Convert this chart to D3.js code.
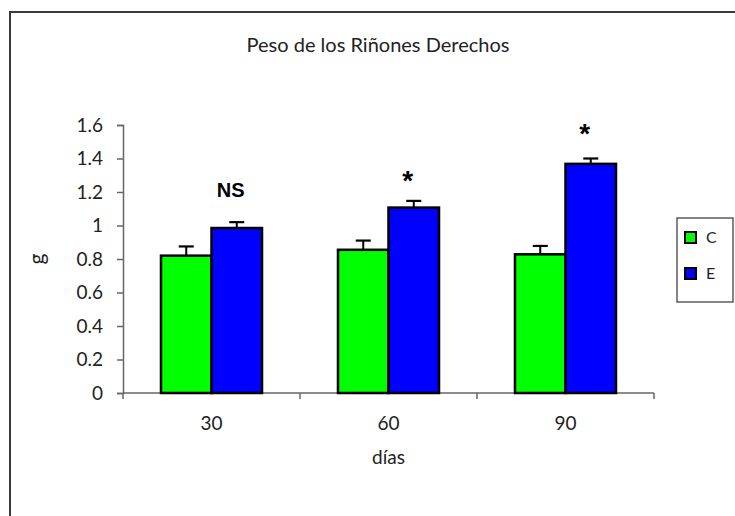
<!DOCTYPE html>
<html>
<head>
<meta charset="utf-8">
<script src="https://cdn.jsdelivr.net/npm/d3@7"></script>
<style>
  html, body { margin: 0; padding: 0; background: #fff; }
  svg { display: block; }
</style>
</head>
<body>
<svg id="chart" width="735" height="516"></svg>
<script>
// ---- data ----
const categories = ["30", "60", "90"];
const seriesNames = ["C", "E"];
const valuesC = [0.82, 0.855, 0.828];
const valuesE = [0.985, 1.107, 1.368];
const errorsC = [0.055, 0.055, 0.05];
const errorsE = [0.035, 0.04, 0.032];
const annotations = ["NS", "*", "*"];
const annotationLevels = [1.172, 1.21, 1.495];
const yTicks = [0, 0.2, 0.4, 0.6, 0.8, 1, 1.2, 1.4, 1.6];
const titleText = "Peso de los Riñones Derechos";
const xLabel = "días";
const yLabel = "g";
const colors = { C: "#00ff00", E: "#0000ff" };

const rows = categories.map((c, i) => ({
  cat: c,
  bars: [
    { s: "C", v: valuesC[i], e: errorsC[i] },
    { s: "E", v: valuesE[i], e: errorsE[i] }
  ],
  note: annotations[i],
  noteLevel: annotationLevels[i]
}));

// ---- layout ----
const svg = d3.select("#chart");
const W = 735, H = 516;
const plot = { left: 123, right: 654, top: 125, bottom: 393 };
const labelFont = "Lato, 'Open Sans', sans-serif";

svg.append("rect").attr("width", W).attr("height", H).attr("fill", "#fff");
// outer chart frame
svg.append("rect")
  .attr("x", 10).attr("y", 12).attr("width", 800).attr("height", 600)
  .attr("fill", "none").attr("stroke", "#3a3a3a").attr("stroke-width", 2);

const x = d3.scaleBand().domain(categories).range([plot.left, plot.right]).padding(0);
const xs = d3.scaleBand().domain(seriesNames).range([0, x.bandwidth()]).paddingInner(0).paddingOuter(0.752);
const y = d3.scaleLinear().domain([0, 1.6]).range([plot.bottom, plot.top]);

// title
svg.append("text")
  .attr("x", 378).attr("y", 52)
  .attr("text-anchor", "middle")
  .attr("font-family", labelFont).attr("font-size", 20).attr("fill", "#222")
  .text(titleText);

// y axis
const yAxis = svg.append("g")
  .attr("transform", `translate(${plot.left},0)`)
  .call(d3.axisLeft(y).tickValues(yTicks).tickSize(6).tickPadding(14)
    .tickFormat(d => d === 0 ? "0" : String(+d.toFixed(1))));
yAxis.select(".domain").attr("stroke", "#666").attr("stroke-width", 1.5);
yAxis.selectAll(".tick line").attr("stroke", "#666").attr("stroke-width", 1.5);
yAxis.selectAll(".tick text")
  .attr("font-family", labelFont).attr("font-size", 19).attr("fill", "#222");

// x axis
const xAxis = svg.append("g")
  .attr("transform", `translate(0,${plot.bottom})`)
  .call(d3.axisBottom(x).tickSize(0).tickPadding(24));
xAxis.select(".domain").remove();
xAxis.selectAll(".tick text")
  .attr("font-family", labelFont).attr("font-size", 19).attr("fill", "#222");
xAxis.append("line")
  .attr("x1", plot.left).attr("x2", plot.right)
  .attr("stroke", "#666").attr("stroke-width", 1.5);
// boundary ticks
const bounds = categories.map(c => x(c)).concat([x(categories[categories.length - 1]) + x.bandwidth()]);
xAxis.selectAll("line.bound").data(bounds).enter().append("line")
  .attr("class", "bound")
  .attr("x1", d => d).attr("x2", d => d).attr("y1", 0).attr("y2", 6)
  .attr("stroke", "#666").attr("stroke-width", 1.5);

// axis titles
svg.append("text")
  .attr("x", (plot.left + plot.right) / 2).attr("y", 464)
  .attr("text-anchor", "middle")
  .attr("font-family", labelFont).attr("font-size", 19).attr("fill", "#222")
  .text(xLabel);
svg.append("text")
  .attr("transform", `translate(44,${(plot.top + plot.bottom) / 2}) rotate(-90)`)
  .attr("text-anchor", "middle")
  .attr("font-family", labelFont).attr("font-size", 21).attr("fill", "#222")
  .text(yLabel);

// bars
const groups = svg.selectAll("g.grp").data(rows).enter().append("g")
  .attr("class", "grp")
  .attr("transform", d => `translate(${x(d.cat)},0)`);

groups.selectAll("line.err").data(d => d.bars).enter().append("line")
  .attr("class", "err")
  .attr("x1", b => xs(b.s) + xs.bandwidth() / 2).attr("x2", b => xs(b.s) + xs.bandwidth() / 2)
  .attr("y1", b => y(b.v)).attr("y2", b => y(b.v + b.e))
  .attr("stroke", "#000").attr("stroke-width", 2);
groups.selectAll("line.cap").data(d => d.bars).enter().append("line")
  .attr("class", "cap")
  .attr("x1", b => xs(b.s) + xs.bandwidth() / 2 - 7.5).attr("x2", b => xs(b.s) + xs.bandwidth() / 2 + 7.5)
  .attr("y1", b => y(b.v + b.e)).attr("y2", b => y(b.v + b.e))
  .attr("stroke", "#000").attr("stroke-width", 2.2);

groups.selectAll("rect.bar").data(d => d.bars).enter().append("rect")
  .attr("class", "bar")
  .attr("x", b => xs(b.s)).attr("width", xs.bandwidth())
  .attr("y", b => y(b.v)).attr("height", b => y(0) - y(b.v))
  .attr("fill", b => colors[b.s]).attr("stroke", "#000").attr("stroke-width", 2.5);

// annotations
groups.append("text")
  .attr("x", d => xs("E") + xs.bandwidth() / 2 - 6)
  .attr("y", d => y(d.noteLevel))
  .attr("text-anchor", "middle")
  .attr("font-family", "'Liberation Sans', Arial, sans-serif")
  .attr("font-weight", "bold")
  .attr("font-size", d => d.note === "*" ? 28 : 20)
  .attr("fill", "#000")
  .text(d => d.note);

// legend
const lg = svg.append("g").attr("transform", "translate(677,218)");
lg.append("rect").attr("width", 56).attr("height", 84)
  .attr("fill", "#fff").attr("stroke", "#333").attr("stroke-width", 1.2);
const li = lg.selectAll("g.li").data(seriesNames).enter().append("g")
  .attr("class", "li")
  .attr("transform", (d, i) => `translate(8,${14 + i * 36})`);
li.append("rect").attr("width", 11).attr("height", 11)
  .attr("fill", d => colors[d]).attr("stroke", "#000").attr("stroke-width", 2);
li.append("text").attr("x", 21).attr("y", 11)
  .attr("font-family", labelFont).attr("font-size", 16).attr("fill", "#222")
  .text(d => d);
</script>
</body>
</html>
